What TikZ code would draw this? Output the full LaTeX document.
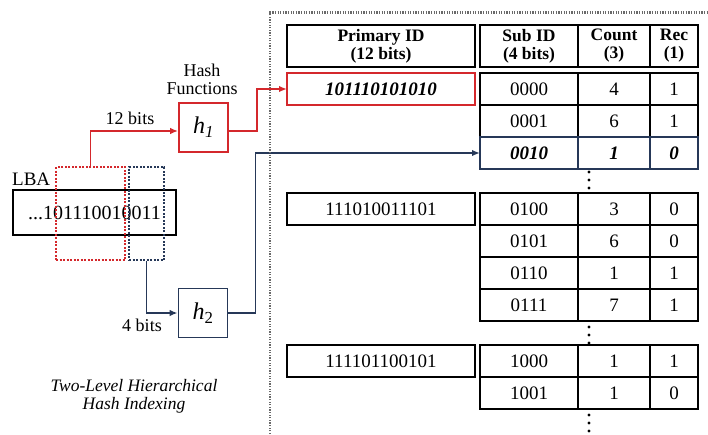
\documentclass[tikz,border=0pt]{standalone}
\usepackage{fontspec}
\setmainfont{Liberation Serif}
\usetikzlibrary{arrows.meta}
\definecolor{hashred}{RGB}{212,40,44}
\definecolor{hashnavy}{RGB}{38,56,88}
\definecolor{framegray}{RGB}{105,105,105}
\begin{document}
\begin{tikzpicture}[x=1pt,y=-1pt,
  cell/.style={draw, line width=1.7pt, inner sep=0pt, outer sep=0pt,
    minimum height=32pt, font=\fontsize{19}{19}\selectfont},
  head/.style={cell, minimum height=42pt, align=center,
    font=\fontsize{17.5}{18}\selectfont\bfseries},
  colid/.style={minimum width=98pt},
  colcnt/.style={minimum width=72pt},
  colrec/.style={minimum width=48pt},
  colpri/.style={minimum width=188pt},
  hitrow/.style={cell, draw=hashnavy, line width=2.1pt,
    font=\fontsize{19}{19}\selectfont\bfseries\itshape},
  hashbox/.style={draw, line width=1.8pt, minimum width=49pt, minimum height=49pt,
    inner sep=0pt, font=\fontsize{24}{24}\selectfont},
  lbl/.style={inner sep=0pt, font=\fontsize{18}{18}\selectfont, align=center},
  redsel/.style={draw=hashred, line width=1.5pt, dash pattern=on 2pt off 1.5pt,
    inner sep=0pt, minimum width=69pt, minimum height=93pt},
  navysel/.style={draw=hashnavy, line width=1.5pt, dash pattern=on 2pt off 1.5pt,
    inner sep=0pt, minimum width=35pt, minimum height=93pt},
  redarrow/.style={draw=hashred, line width=1.8pt, -{Latex[length=8pt,width=6.5pt]}},
  navyarrow/.style={draw=hashnavy, line width=1.8pt, -{Latex[length=8pt,width=6.5pt]}},
]
\useasboundingbox (0,0) rectangle (708,434);

% ---------- index table headers ----------
\node[head,colpri] (hp) at (381,46) {Primary ID\\(12 bits)};
\node[head,colid]  (hs) at (529,46) {Sub ID\\(4 bits)};
\node[head,colcnt] (hc) at (614,46) {Count\\(3)};
\node[head,colrec] (hr) at (674,46) {Rec\\(1)};

% ---------- primary IDs ----------
\node[cell,colpri,draw=hashred,line width=2.1pt,
  font=\fontsize{19}{19}\selectfont\bfseries\itshape] (p1) at (381,89) {101110101010};
\node[cell,colpri] (p2) at (381,209) {111010011101};
\node[cell,colpri] (p3) at (381,361) {111101100101};

% ---------- sub-ID entries ----------
\foreach \y/\a/\b/\c/\n in {89/0000/4/1/1, 121/0001/6/1/2,
    209/0100/3/0/4, 241/0101/6/0/5, 273/0110/1/1/6, 305/0111/7/1/7,
    361/1000/1/1/8, 393/1001/1/0/9} {
  \node[cell,colid]  (s\n) at (529,\y) {\a};
  \node[cell,colcnt] (c\n) at (614,\y) {\b};
  \node[cell,colrec] (r\n) at (674,\y) {\c};
}
% the entry found by the lookup
\node[hitrow,colid]  (s3) at (529,153) {0010};
\node[hitrow,colcnt] (c3) at (614,153) {1};
\node[hitrow,colrec] (r3) at (674,153) {0};

% continuation marks
\foreach \y in {172,180,188,327,335,343,415,423,431}
  \fill (589,\y) circle (1.6pt);

% ---------- LBA and bit selections ----------
\node[cell, minimum width=163pt, minimum height=45pt, line width=1.8pt,
  font=\fontsize{20}{20}\selectfont] (lba) at (94.5,212.5) {...101110010011};
\node[lbl, anchor=base west, font=\fontsize{19}{19}\selectfont] (lbaname) at (12,185) {LBA};
\node[redsel] (selA) at (90.5,213.5) {};
\node[navysel] (selB) at (146.5,213.5) {};

% ---------- hash functions ----------
\node[hashbox, draw=hashred] (h1) at (203.5,127.5) {\textit{h}\textsubscript{\textit{1}}};
\node[hashbox, draw=hashnavy] (h2) at (203,313) {\textit{h}\textsubscript{2}};
\node[lbl] (hashlbl) at (202,79) {Hash\\Functions};
\node[lbl] (bits12) at (130,118) {12 bits};
\node[lbl] (bits4) at (142,325) {4 bits};
\node[lbl, font=\fontsize{17.5}{18}\selectfont\itshape] (caption) at (134,396)
  {Two-Level Hierarchical\\Hash Indexing};

% ---------- connectors ----------
\draw[redarrow] (selA.north) |- ([yshift=-3.5pt]h1.west);
\draw[redarrow] ([yshift=-3.5pt]h1.east) -- ++(28,0) |- (p1.west);
\draw[navyarrow] (selB.south) |- (h2.west);
\draw[navyarrow] (h2.east) -- ++(27,0) |- (s3.west);

% ---------- dotted frame around the table ----------
\draw[framegray, line width=2.2pt, dash pattern=on 1.3pt off 1.3pt]
  (270,434) -- (270,12.5) -- (708,12.5);
\end{tikzpicture}
\end{document}
